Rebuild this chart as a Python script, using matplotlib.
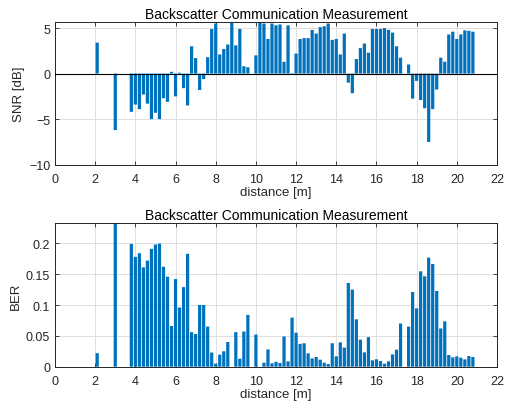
import numpy as np
import matplotlib
matplotlib.use('Agg')
import matplotlib.pyplot as plt

plt.rcParams['font.family'] = ['Liberation Sans', 'DejaVu Sans']

# measurement positions [m]
distance = [2.1, 3.0, 3.8, 4.0, 4.2, 4.4, 4.6, 4.8, 5.0, 5.2, 5.4, 5.6, 5.8, 6.0,
            6.2, 6.4, 6.6, 6.8, 7.0, 7.2, 7.4, 7.6, 7.8, 8.0, 8.2, 8.4, 8.6, 8.8,
            9.0, 9.2, 9.4, 9.6, 10.0, 10.2, 10.4, 10.6, 10.8, 11.0, 11.2, 11.4,
            11.6, 11.8, 12.0, 12.2, 12.4, 12.6, 12.8, 13.0, 13.2, 13.4, 13.6,
            13.8, 14.0, 14.2, 14.4, 14.6, 14.8, 15.0, 15.2, 15.4, 15.6, 15.8,
            16.0, 16.2, 16.4, 16.6, 16.8, 17.0, 17.2, 17.6, 17.8, 18.0, 18.2,
            18.4, 18.6, 18.8, 19.0, 19.2, 19.4, 19.6, 19.8, 20.0, 20.2, 20.4,
            20.6, 20.8]

snr_db = [3.4, -6.2, -4.2, -3.4, -3.9, -2.3, -3.3, -5.0, -4.3, -5.0, -2.7, -3.1,
          0.2, -2.5, 0.1, -1.6, -3.5, 3.0, 1.7, -1.8, -0.6, 1.8, 4.9, 5.5, 2.1,
          2.7, 3.2, 6.0, 3.1, 4.9, 0.8, 0.7, 2.0, 6.0, 5.5, 3.8, 5.5, 5.3, 5.4,
          1.3, 5.3, -0.15, 2.2, 3.8, 3.9, 3.9, 4.8, 4.4, 5.1, 5.2, 5.5, 3.7,
          3.8, 2.1, 4.4, -1.0, -2.15, 1.6, 2.8, 3.3, 2.3, 4.9, 4.9, 4.9, 5.0,
          4.8, 4.5, 3.0, 1.75, 1.0, -2.75, -0.8, -2.9, -3.8, -7.5, -3.9, -1.75,
          1.75, 1.3, 4.3, 4.6, 3.8, 4.3, 4.75, 4.7, 4.6]

ber = [0.022, 0.5, 0.199, 0.178, 0.184, 0.161, 0.172, 0.191, 0.198, 0.1995,
       0.162, 0.146, 0.066, 0.142, 0.096, 0.129, 0.183, 0.056, 0.053, 0.1,
       0.1, 0.065, 0.023, 0.005, 0.0195, 0.025, 0.04, 0.0, 0.056, 0.013,
       0.057, 0.084, 0.052, 0.0, 0.0065, 0.028, 0.0055, 0.008, 0.006, 0.049,
       0.0086, 0.0795, 0.055, 0.037, 0.038, 0.0216, 0.0135, 0.0157, 0.0114,
       0.0065, 0.0043, 0.038, 0.0168, 0.0395, 0.031, 0.1357, 0.125, 0.0768,
       0.0438, 0.0232, 0.048, 0.0103, 0.012, 0.0092, 0.0049, 0.0086, 0.02,
       0.0276, 0.07, 0.065, 0.121, 0.0946, 0.1546, 0.1465, 0.1768, 0.1665,
       0.1227, 0.062, 0.0735, 0.0189, 0.0151, 0.0168, 0.0146, 0.0119, 0.0173,
       0.0157]

blue = '#0072BD'
axcol = '#262626'

fig = plt.figure(figsize=(5.13, 4.14), dpi=100)
ax1 = fig.add_axes([0.1072, 0.5998, 0.8616, 0.3454])
ax2 = fig.add_axes([0.1072, 0.1118, 0.8616, 0.3464])

def style(ax):
    ax.set_xlim(0, 22)
    ax.set_xticks(range(0, 23, 2))
    ax.grid(True, color='#dedede', linewidth=0.7)
    ax.set_axisbelow(True)
    ax.tick_params(direction='in', top=True, right=True, labelsize=9,
                   color=axcol, labelcolor=axcol, length=3, width=0.6)
    ax.tick_params(axis='x', pad=6)
    for s in ax.spines.values():
        s.set_color(axcol)
        s.set_linewidth(0.7)
    ax.set_xlabel('distance [m]', fontsize=9.5, color=axcol, labelpad=1)
    ax.set_title('Backscatter Communication Measurement', fontsize=10,
                 color='black', pad=3)

ax1.bar(distance, snr_db, width=0.16, color=blue, zorder=2, snap=False)
ax1.axhline(0, color='black', linewidth=0.8, zorder=3)
ax1.set_ylim(-10, 5.7)
ax1.set_yticks([-10, -5, 0, 5])
ax1.set_ylabel('SNR [dB]', fontsize=9.5, color=axcol, labelpad=3)
style(ax1)

ax2.bar(distance, ber, width=0.16, color=blue, zorder=2, snap=False)
ax2.set_ylim(0, 0.2324)
ax2.set_yticks([0, 0.05, 0.1, 0.15, 0.2])
ax2.set_yticklabels(['0', '0.05', '0.1', '0.15', '0.2'])
ax2.set_ylabel('BER', fontsize=9.5, color=axcol, labelpad=3)
style(ax2)

fig.savefig('out.png', dpi=100)
